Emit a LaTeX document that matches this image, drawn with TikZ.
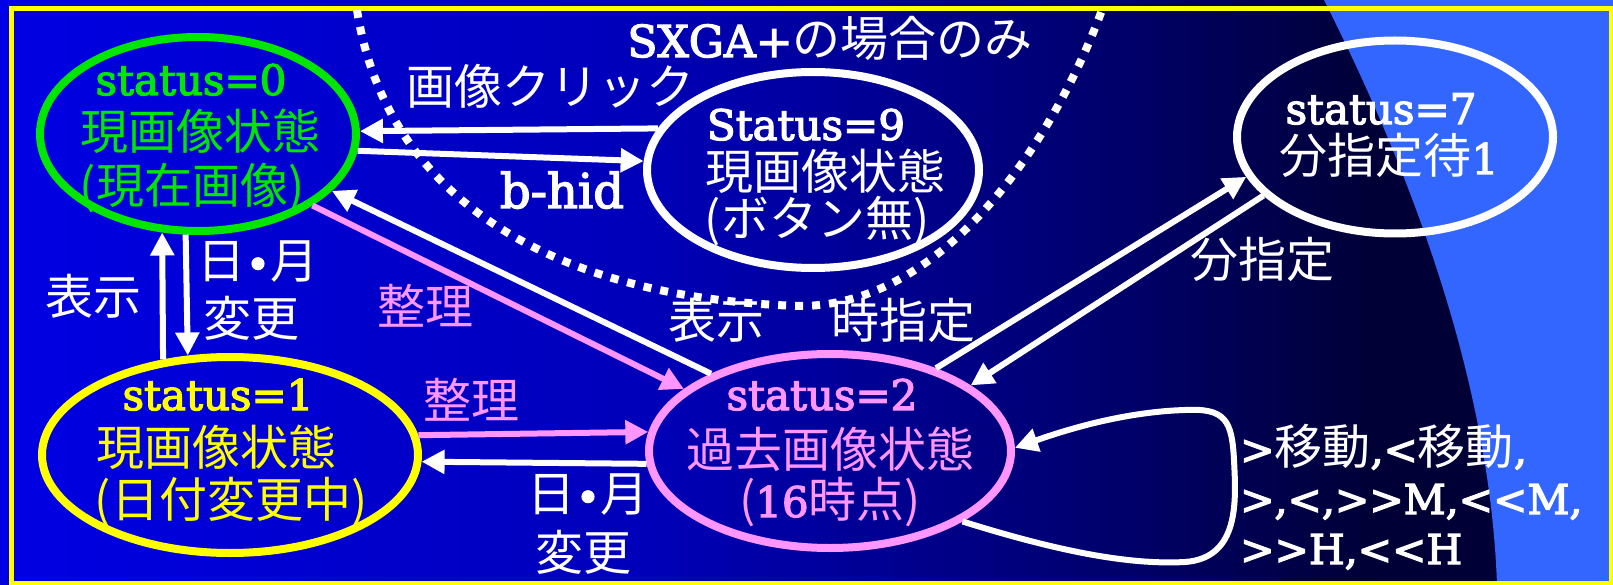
\documentclass[tikz,border=0pt]{standalone}
\usepackage{fontspec}
\setmainfont{DejaVu Serif}[BoldFont={DejaVu Serif}, BoldFeatures={FakeBold=3}]
\newfontfamily\jpf{Noto Sans CJK JP}
\usetikzlibrary{shapes.geometric,arrows.meta}
\definecolor{bgA}{RGB}{0,0,228}
\definecolor{bgB}{RGB}{0,0,185}
\definecolor{bgC}{RGB}{0,0,105}
\definecolor{bgD}{RGB}{0,0,55}
\definecolor{sky}{RGB}{51,102,255}
\definecolor{grn}{RGB}{0,230,0}
\definecolor{yel}{RGB}{255,255,0}
\definecolor{pnk}{RGB}{255,150,255}
\pgfdeclarehorizontalshading{bgshade}{100bp}{color(0bp)=(bgA); color(25bp)=(bgA); color(45bp)=(bgB); color(60bp)=(bgC); color(67.5bp)=(bgD); color(100bp)=(bgD)}
\newcommand{\jt}[1]{{\jpf\mdseries\fontsize{48}{55}\selectfont #1}}
\tikzset{
  state/.style={ellipse, draw, line width=8pt, inner sep=0pt, fill=none},
  txt/.style={inner sep=0pt, font=\bfseries\fontsize{42}{50}\selectfont},
  lab/.style={inner sep=0pt, font=\bfseries\fontsize{41}{50}\selectfont},
  arr/.style={line width=6pt, draw=white, -{Triangle[length=23pt,width=23pt,fill=white]}},
  parr/.style={line width=6pt, draw=pnk, -{Triangle[length=23pt,width=23pt,fill=pnk]}},
}
\begin{document}
\begin{tikzpicture}[x=1pt,y=-1pt]
\useasboundingbox (0,0) rectangle (1613,585);
\shade[shading=bgshade] (0,0) rectangle (1613,585);
\fill[sky] (1324,0) .. controls (1410,170) and (1490,380) .. (1497,585) -- (1613,585) -- (1613,0) -- cycle;
\draw[yel, line width=5pt] (11,8.5) rectangle (1611,583.5);
% dotted region boundary
\draw[white, line width=8pt, dash pattern=on 8pt off 9pt] (357,10) .. controls (385,190) and (540,298) .. (800,306) .. controls (940,306) and (1050,150) .. (1102,10);
% states
\node[state, draw=grn, minimum width=316pt, minimum height=194pt] (n0) at (198,134) {};
\node[state, draw=yel, minimum width=376pt, minimum height=196pt] (n1) at (230,455) {};
\node[state, draw=pnk, minimum width=362pt, minimum height=194pt] (n2) at (830,451) {};
\node[state, draw=white, minimum width=332pt, minimum height=196pt] (n9) at (813,170) {};
\node[state, draw=white, minimum width=316pt, minimum height=193pt] (n7) at (1395,137) {};
% state texts
\node[txt, text=grn, anchor=base] (t0a) at (191,95) {status=0};
\node[txt, text=grn, anchor=base] (t0b) at (200,150) {\jt{現画像状態}};
\node[txt, text=grn, anchor=base] (t0c) at (192,204) {\jt{(現在画像)}};
\node[txt, text=yel, anchor=base] (t1a) at (218,410) {status=1};
\node[txt, text=yel, anchor=base] (t1b) at (216,465) {\jt{現画像状態}};
\node[txt, text=yel, anchor=base] (t1c) at (231,517) {\jt{(日付変更中)}};
\node[txt, text=pnk, anchor=base] (t2a) at (822,410) {status=2};
\node[txt, text=pnk, anchor=base] (t2b) at (830,467) {\jt{過去画像状態}};
\node[txt, text=pnk, anchor=base] (t2c) at (830,517) {\jt{(}16\jt{時点)}};
\node[txt, text=white, anchor=base] (t9a) at (806,140) {Status=9};
\node[txt, text=white, anchor=base] (t9b) at (825,190) {\jt{現画像状態}};
\node[txt, text=white, anchor=base] (t9c) at (817,237) {\jt{(ボタン無)}};
\node[txt, text=white, anchor=base] (t7a) at (1381,124) {status=7};
\node[txt, text=white, anchor=base] (t7b) at (1389,174) {\jt{分指定待}1};
% connectors
\draw[arr] (n9.165.6) -- (n0.1.4);
\draw[arr] (n0.-6.8) -- (n9.177.3);
\draw[arr] (n1.125) -- (n0.250.5);
\draw[arr] (n0.263.8) -- (n1.113.4);
\draw[parr] (n0.-32) -- (n2.157.2);
\draw[arr] (n2.147) -- (n0.-23.4);
\draw[parr] (n1.6.7) -- (n2.174.4);
\draw[arr] (n2.-176.3) -- (n1.-2.4);
\draw[arr] (n2.38.2) -- (n7.195.5);
\draw[arr] (n7.204) -- (n2.25.7);
\draw[arr] (n2.-28) .. controls (1060,552) and (1130,565) .. (1185,562) .. controls (1240,558) and (1236,500) .. (1234,460) .. controls (1232,420) and (1225,408) .. (1185,410) .. controls (1120,412) and (1060,432) .. (n2.1.3);
% labels
\node[lab, text=white, anchor=base, font=\bfseries\fontsize{44}{50}\selectfont] (lsx) at (830,57) {SXGA+\jt{の場合のみ}};
\node[lab, text=white] (lclick) at (550,86) {\jt{画像クリック}};
\node[lab, text=white, anchor=base, font=\bfseries\fontsize{48}{50}\selectfont] (lbhid) at (562,208) {b-hid};
\node[lab, text=white] (lshow1) at (93,296) {\jt{表示}};
\node[lab, text=white] (ldm1) at (258,262) {\jt{日}•\jt{月}};
\node[lab, text=white] (lch1) at (251,318) {\jt{変更}};
\node[lab, text=pnk] (lsort1) at (425,306) {\jt{整理}};
\node[lab, text=white] (lshow2) at (716,320) {\jt{表示}};
\node[lab, text=white] (lhour) at (903,320) {\jt{時指定}};
\node[lab, text=white] (lmin) at (1262,259) {\jt{分指定}};
\node[lab, text=pnk] (lsort2) at (471,400) {\jt{整理}};
\node[lab, text=white] (ldm2) at (588,495) {\jt{日}•\jt{月}};
\node[lab, text=white] (lch2) at (583,552) {\jt{変更}};
\node[lab, text=white, anchor=base west] (lmv1) at (1240,464) {>\jt{移動},<\jt{移動},};
\node[lab, text=white, anchor=base west] (lmv2) at (1240,514) {>,<,>{}>M,<{}<M,};
\node[lab, text=white, anchor=base west] (lmv3) at (1240,564) {>{}>H,<{}<H};
\end{tikzpicture}
\end{document}
